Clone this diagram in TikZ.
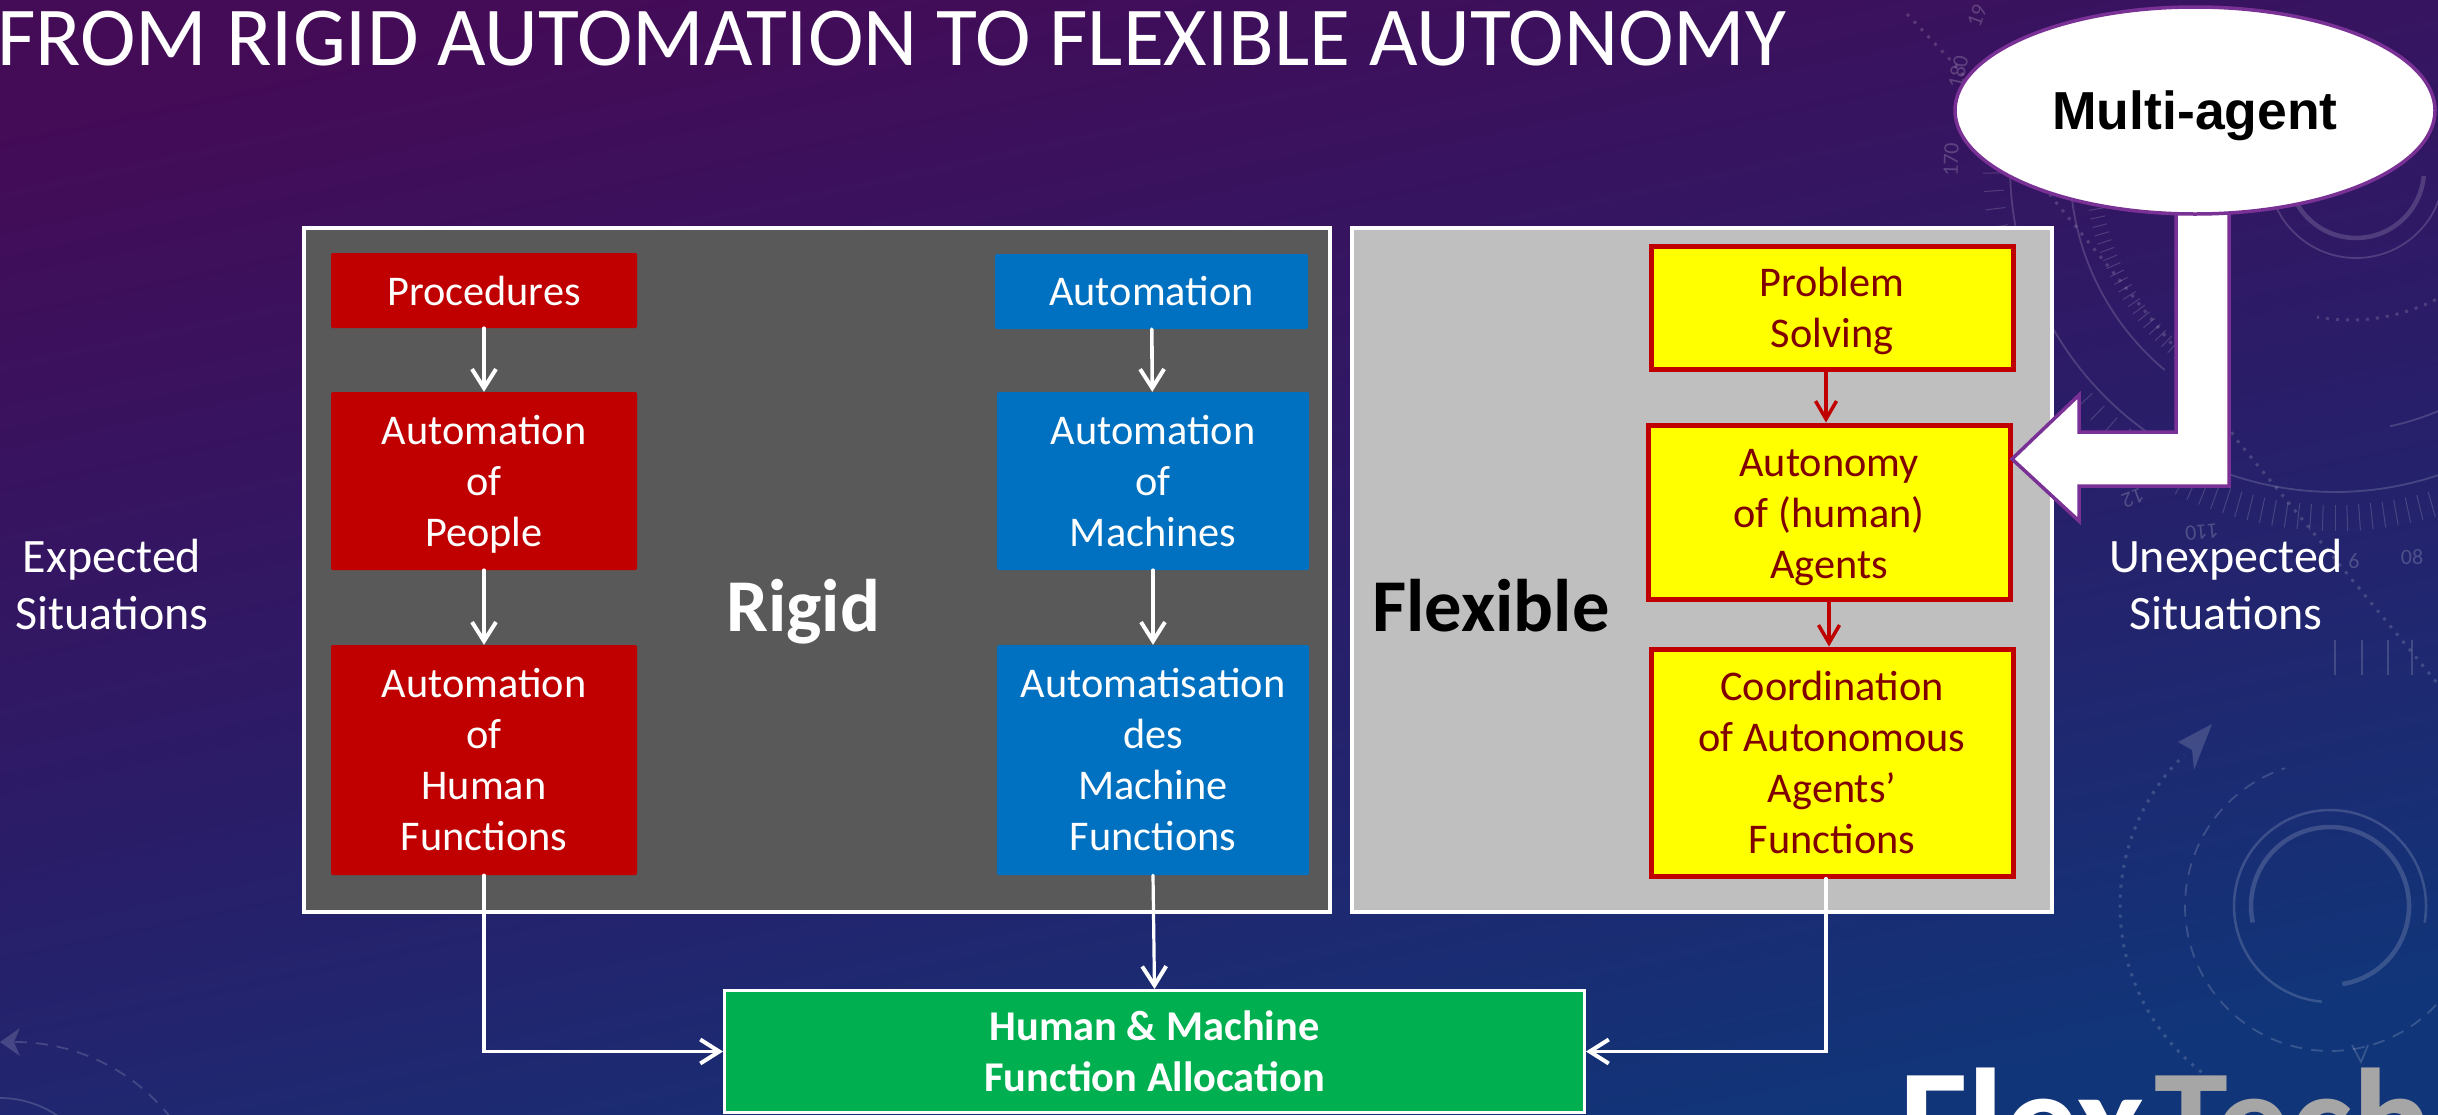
\documentclass[tikz,border=0pt]{standalone}
\usepackage{fontspec}
\setmainfont{Carlito}
\newfontfamily\arialfont{Liberation Sans}
\usetikzlibrary{arrows.meta,shapes.geometric}
\definecolor{bgtop}{HTML}{440B57}
\definecolor{bgmid}{HTML}{2C1B67}
\definecolor{bgbot}{HTML}{113579}
\definecolor{darkpanel}{HTML}{595959}
\definecolor{lightpanel}{HTML}{BFBFBF}
\definecolor{boxred}{HTML}{C00000}
\definecolor{boxblue}{HTML}{0070C0}
\definecolor{boxgreen}{HTML}{00B050}
\definecolor{boxyellow}{HTML}{FFFF00}
\definecolor{boxtext}{HTML}{800000}
\definecolor{bentpurple}{HTML}{7A3195}
\definecolor{logogray}{HTML}{A6A6A6}
\tikzset{
  panel/.style={draw=white,line width=4pt,inner sep=0pt},
  boxlabel/.style={font=\fontsize{42.3}{51}\selectfont,align=center,inner sep=0pt},
  redbox/.style={boxlabel,fill=boxred,text=white,rounded corners=1.5pt,minimum width=306pt},
  bluebox/.style={boxlabel,fill=boxblue,text=white,rounded corners=1.5pt,minimum width=312pt},
  yellowbox/.style={boxlabel,fill=boxyellow,draw=boxred,line width=5pt,text=boxtext,minimum width=362pt},
  sidelabel/.style={font=\fontsize{48}{57}\selectfont,align=center,text=white,inner sep=0pt},
  biglabel/.style={font=\fontsize{74.5}{80}\selectfont\bfseries,inner sep=0pt},
  flow/.style={-{Straight Barb[length=19pt,width=24pt,line width=4pt]},line width=3.6pt,white,line cap=round},
  redflow/.style={-{Straight Barb[length=18pt,width=21pt,line width=3.5pt]},line width=3.4pt,boxred,line cap=round},
  dial/.style={white,opacity=0.16,line width=1.8pt},
  dialtext/.style={text=white,opacity=0.2,font=\fontsize{22}{22}\selectfont,inner sep=0pt},
}
\newcommand{\dialarc}[6]{\draw[#1] plot[domain=#5:#6,samples=80,smooth] ({#2+#4*cos(\x)},{#3+#4*sin(\x)});}
\begin{document}
\begin{tikzpicture}[x=1pt,y=-1pt]
\useasboundingbox (0,0) rectangle (2438,1114);
\clip (0,0) rectangle (2438,1114);
\shade[top color=bgtop,bottom color=bgbot,middle color=bgmid,shading angle=12] (-5,-5) rectangle (2443,1119);
\dialarc{dial}{2335}{167}{265}{130}{190}
\dialarc{dial}{2335}{167}{265}{62}{78}
\dialarc{dial}{2335}{167}{325}{30}{195}
\dialarc{dial,line width=4.5pt}{2356}{170}{68}{5}{170}
\dialarc{dial}{2356}{170}{88}{-5}{160}
\dialarc{dial,dash pattern=on 3pt off 7pt,line width=3pt}{2350}{130}{190}{30}{100}
\draw[dial,dash pattern=on 3pt off 7pt,line width=3pt] (1907,14) -- (1958,68) -- (2054,200) -- (2171,343) -- (2236,439) -- (2438,684);
\foreach \a in {130,132,...,172} \draw[dial,line width=1pt] ({2335+235*cos(\a)},{167+235*sin(\a)}) -- ({2335+250*cos(\a)},{167+250*sin(\a)});
\foreach \a in {62,64,...,116} \draw[dial,line width=1pt] ({2335+338*cos(\a)},{167+338*sin(\a)}) -- ({2335+364*cos(\a)},{167+364*sin(\a)});
\foreach \a in {122,125,...,137,170,173,...,188} \draw[dial,line width=1pt] ({2335+332*cos(\a)},{167+332*sin(\a)}) -- ({2335+352*cos(\a)},{167+352*sin(\a)});
\foreach \xx in {2335,2362,2388,2412} \draw[dial,line width=1.2pt] (\xx,640) -- (\xx,675);
\foreach \nm/\xx/\yy/\rr/\tx in {a/1977/16/70/19,b/1958/72/78/180,c/1951/160/88/170,d/2133/498/200/12,e/2202/532/186/110,f/2354/561/0/6,g/2412/557/0/08} \node[dialtext,rotate=\rr] (dial\nm) at (\xx,\yy) {\tx};
\dialarc{dial,line width=2.5pt}{2330}{906}{96}{95}{370}
\dialarc{dial,line width=4.5pt}{2330}{906}{79}{168}{441}
\dialarc{dial,dashed,dash pattern=on 12pt off 9pt}{2330}{906}{145}{43}{252}
\dialarc{dial,dash pattern=on 3pt off 7pt,line width=3pt}{2330}{906}{210}{125}{226}
\fill[white,opacity=0.16] (2212,724) -- (2178,742) -- (2192,750) -- (2194,770) -- cycle;
\draw[dial] (2352,1045) -- (2361,1062) -- (2368,1045);
\dialarc{dial,dash pattern=on 12pt off 9pt}{15}{1240}{198}{270}{325}
\dialarc{dial}{0}{1200}{102}{270}{330}
\fill[white,opacity=0.16] (20,1028) -- (0,1042) -- (20,1056) -- (14,1042) -- cycle;
\node[anchor=base west,inner sep=0pt,text=white,font=\fontsize{83.8}{90}\selectfont] (title) at (-3,65) {FROM RIGID AUTOMATION TO FLEXIBLE AUTONOMY};
\node[panel,fill=darkpanel,minimum width=1026pt,minimum height=684pt] (rigidpanel) at (817,570) {};
\node[panel,fill=lightpanel,minimum width=700pt,minimum height=684pt] (flexpanel) at (1702,570) {};
\node[biglabel,text=white,anchor=base] (rigid) at (803,631) {Rigid};
\node[biglabel,text=black,anchor=base] (flexible) at (1491,631) {Flexible};
\node[redbox,minimum height=75pt] (proc) at (484,290.5) {Procedures};
\node[redbox,minimum height=178pt] (people) at (484,481) {\rule{0pt}{35pt}Automation\\of\\People};
\node[redbox,minimum height=230pt] (humanfn) at (484,760) {Automation\\of\\Human\\Functions};
\node[bluebox,minimum height=75pt,minimum width=313pt] (auto) at (1151.5,291.5) {Automation};
\node[bluebox,minimum height=178pt] (machines) at (1153,481) {Automation\\of\\Machines};
\node[bluebox,minimum height=230pt] (machinefn) at (1153,760) {Automatisation\\des\\Machine\\Functions};
\node[yellowbox,minimum height=123pt] (problem) at (1832,307.5) {\rule{0pt}{37pt}Problem\\Solving};
\node[yellowbox,minimum height=174pt] (autonomy) at (1829,512) {\rule{0pt}{39pt}Autonomy\\of (human)\\Agents};
\node[yellowbox,minimum height=227pt] (coord) at (1832,762.5) {Coordination\\of Autonomous\\Agents’\\Functions};
\node[draw=white,line width=3pt,fill=boxgreen,minimum width=860pt,minimum height=122pt,text=white,align=center,inner sep=0pt,font=\fontsize{42.4}{51}\selectfont\bfseries] (alloc) at (1154.5,1051.5) {Human \& Machine\\Function Allocation};
\node[sidelabel] (expected) at (112,585) {Expected\\Situations};
\node[sidelabel] (unexpected) at (2226,585) {Unexpected\\Situations};
\draw[flow] (proc) -- (people);
\draw[flow] (people) -- (humanfn);
\draw[flow] (auto) -- (machines);
\draw[flow] (machines) -- (machinefn);
\draw[redflow] ([xshift=-6pt]problem.south) -- ([xshift=-3pt]autonomy.north);
\draw[redflow] (autonomy.south) -- ([xshift=-3pt]coord.north);
\draw[flow,line width=3.2pt] (humanfn.south) |- (alloc.west);
\draw[flow,line width=3.2pt] (machinefn.south) -- (alloc.north);
\draw[flow,line width=3.2pt] ([xshift=-6pt]coord.south) |- (alloc.east);
\draw[bentpurple,fill=white,line width=3.5pt,line join=miter] (2176,205) -- (2176,432) -- (2079,432) -- (2079,395) -- (2012,459) -- (2079,521) -- (2079,486) -- (2229,486) -- (2229,205) -- cycle;
\node[ellipse,draw=bentpurple,fill=white,line width=3.5pt,minimum width=480pt,minimum height=207pt,inner sep=0pt,text depth=0pt,font=\arialfont\bfseries\fontsize{53.5}{60}\selectfont] (agent) at (2195,110.5) {Multi-agent};
\node[anchor=base west,inner sep=0pt,text=white,font=\fontsize{149}{160}\selectfont\bfseries] (flex) at (1899,1172) {Flex};
\node[anchor=base west,inner sep=0pt,text=logogray,font=\fontsize{149}{160}\selectfont\bfseries] (tech) at (2154,1172) {Tech};
\end{tikzpicture}
\end{document}
